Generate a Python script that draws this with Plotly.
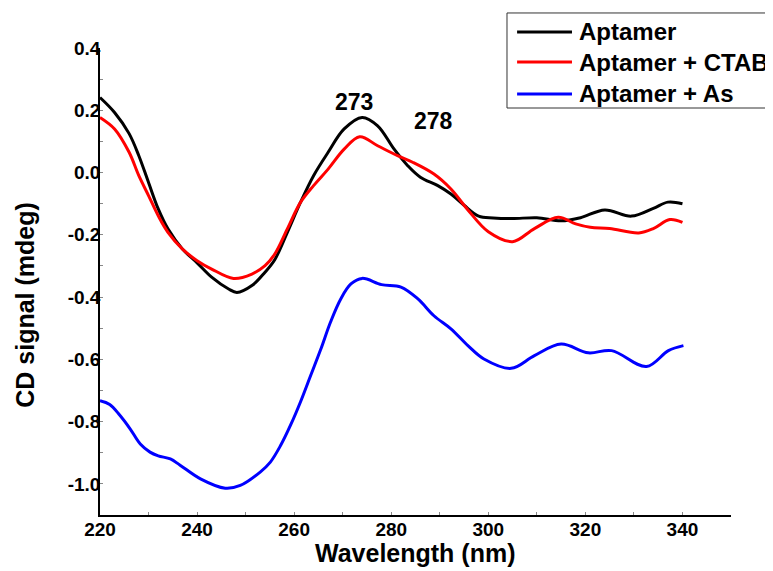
import plotly.graph_objects as go

# Wavelength (nm) and CD signal (mdeg)
apt_x = [220, 223, 226, 228, 230, 232, 234, 237, 240, 243, 246.5, 248.2, 251.3, 254, 256,
         258.6, 261.3, 264, 267, 270.3, 274, 277.2, 280.6, 283.4, 286, 289.6, 292.3, 295,
         298, 301, 305, 310, 315, 319, 324, 329.5, 334, 337, 340]
apt_y = [0.241, 0.193, 0.125, 0.054, -0.032, -0.117, -0.181, -0.246, -0.29, -0.336, -0.374,
         -0.385, -0.363, -0.32, -0.28, -0.192, -0.096, -0.01, 0.065, 0.14, 0.177, 0.15, 0.075,
         0.022, -0.015, -0.042, -0.069, -0.105, -0.14, -0.146, -0.148, -0.145, -0.155, -0.145,
         -0.12, -0.14, -0.115, -0.095, -0.10]

ctab_x = [220, 223, 226, 228, 230, 232, 234, 237, 240, 243, 247.5, 251.3, 254, 256, 258.6,
          261.3, 264, 267, 270.3, 273.5, 277.2, 281.3, 284.4, 288.8, 292.3, 295.8, 300, 305,
          309.5, 314.4, 318, 321, 325, 331, 334, 337.4, 340]
ctab_y = [0.177, 0.14, 0.065, -0.01, -0.074, -0.139, -0.192, -0.246, -0.283, -0.31, -0.34,
          -0.326, -0.299, -0.262, -0.181, -0.096, -0.042, 0.011, 0.075, 0.115, 0.086, 0.054,
          0.033, -0.005, -0.053, -0.12, -0.19, -0.222, -0.18, -0.144, -0.165, -0.176, -0.18,
          -0.194, -0.18, -0.151, -0.16]

as_x = [220, 222, 224, 226.2, 228.3, 230.3, 232, 234.5, 236.5, 240.7, 245.8, 248.9, 253, 255.1,
        257.2, 259.3, 261.3, 263.4, 265.5, 267.5, 269.6, 271.7, 274, 278, 282, 285.5, 288.8,
        292.3, 295.8, 299.1, 304.7, 309.5, 315, 320.6, 325.4, 332.6, 337.1, 340.2]
as_y = [-0.733, -0.745, -0.778, -0.823, -0.872, -0.898, -0.91, -0.92, -0.94, -0.984, -1.014,
        -1.005, -0.962, -0.93, -0.877, -0.81, -0.737, -0.652, -0.567, -0.48, -0.406, -0.358,
        -0.34, -0.36, -0.368, -0.406, -0.46, -0.502, -0.556, -0.599, -0.629, -0.588, -0.551,
        -0.579, -0.572, -0.623, -0.572, -0.556]

series_names = ["Aptamer", "Aptamer + CTAB", "Aptamer + As"]
series_colors = ["#000000", "#ff0000", "#0000ff"]

x_ticks = [220, 240, 260, 280, 300, 320, 340]
y_ticks = [-1.0, -0.8, -0.6, -0.4, -0.2, 0.0, 0.2, 0.4]

peak_labels = ["273", "278"]
peak_x = [272.3, 288.8]
peak_y = [0.226, 0.165]

FONT = "Liberation Sans"

fig = go.Figure()
for xs, ys, name, col in zip([apt_x, ctab_x, as_x], [apt_y, ctab_y, as_y], series_names, series_colors):
    fig.add_trace(go.Scatter(x=xs, y=ys, mode="lines", name=name, showlegend=False,
                             line=dict(color=col, width=3, shape="spline", smoothing=1)))

for t, px, py in zip(peak_labels, peak_x, peak_y):
    fig.add_annotation(x=px, y=py, text="<b>%s</b>" % t, showarrow=False,
                       xanchor="center", yanchor="middle",
                       font=dict(family=FONT, size=23, color="black"))

# axis titles
fig.add_annotation(xref="paper", yref="paper", x=-0.119, y=0.45, text="<b>CD signal (mdeg)</b>",
                   textangle=-90, showarrow=False, xanchor="center", yanchor="middle",
                   font=dict(family=FONT, size=25, color="black"))
fig.add_annotation(xref="paper", yref="paper", x=0.499, y=-0.081, text="<b>Wavelength (nm)</b>",
                   showarrow=False, xanchor="center", yanchor="middle",
                   font=dict(family=FONT, size=25, color="black"))

# legend box (drawn to match the reference, which is cut at the right edge)
fig.add_shape(type="rect", xref="paper", yref="paper", x0=0.645, x1=1.12, y0=0.8715, y1=1.075,
              line=dict(color="#333333", width=1), fillcolor="white", layer="above")
leg_y = [1.0343, 0.970, 0.9015]
for name, col, ly in zip(series_names, series_colors, leg_y):
    fig.add_shape(type="line", xref="paper", yref="paper", x0=0.661, x1=0.748, y0=ly, y1=ly,
                  line=dict(color=col, width=3), layer="above")
    fig.add_annotation(xref="paper", yref="paper", x=0.756, y=ly, text="<b>%s</b>" % name,
                       xanchor="left", yanchor="middle", showarrow=False,
                       font=dict(family=FONT, size=24, color="black"))

# page body has an 8px margin, so the figure is sized/placed to compensate
fig.update_layout(
    width=765, height=563,
    margin=dict(l=92, r=42, t=40, b=56, autoexpand=False),
    plot_bgcolor="white", paper_bgcolor="white",
    font=dict(family=FONT, color="black"),
    showlegend=False,
    xaxis=dict(range=[220, 350], tickvals=x_ticks,
               ticktext=["<b>%d</b>" % v for v in x_ticks],
               showline=True, linecolor="black", linewidth=1.5, mirror=False,
               showgrid=False, zeroline=False, ticks="inside", ticklen=3, tickcolor="#888888",
               minor=dict(dtick=10, ticks="inside", ticklen=3, tickcolor="#888888"),
               ticklabelstandoff=-4,
               tickfont=dict(family=FONT, size=19, color="black")),
    yaxis=dict(range=[-1.1, 0.4], tickvals=y_ticks,
               ticktext=["<b>%.1f</b>" % v for v in y_ticks],
               showline=True, linecolor="black", linewidth=1.5, mirror=False,
               showgrid=False, zeroline=False, ticks="inside", ticklen=3, tickcolor="#888888",
               minor=dict(dtick=0.1, ticks="inside", ticklen=3, tickcolor="#888888"),
               ticklabelstandoff=-6,
               tickfont=dict(family=FONT, size=19, color="black")),
)

fig.write_html("out.html")
